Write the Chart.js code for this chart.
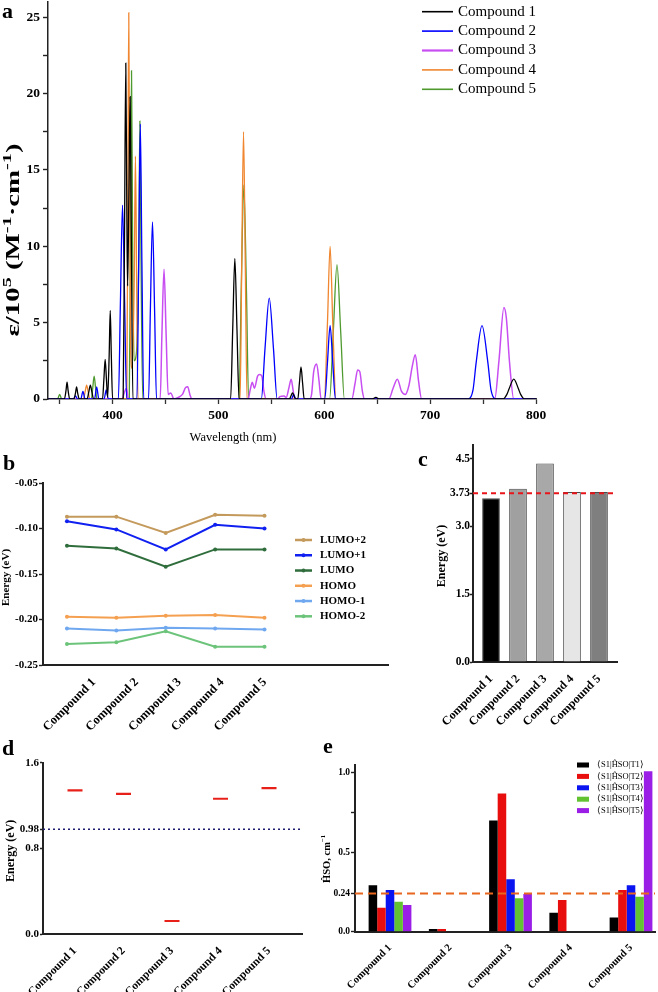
<!DOCTYPE html>
<html><head><meta charset="utf-8">
<script src="https://cdn.jsdelivr.net/npm/chart.js@4.4.1/dist/chart.umd.min.js"></script>
<style>
html,body{margin:0;padding:0;background:#fff;}
body{width:658px;height:992px;position:relative;overflow:hidden;}
.box{position:absolute;}
</style></head><body>
<div class="box" style="left:0;top:0;width:658px;height:452px"><canvas id="ca"></canvas></div>
<div class="box" style="left:0;top:452px;width:400px;height:290px"><canvas id="cb"></canvas></div>
<div class="box" style="left:400px;top:440px;width:258px;height:300px"><canvas id="cc"></canvas></div>
<div class="box" style="left:0;top:740px;width:318px;height:252px"><canvas id="cd"></canvas></div>
<div class="box" style="left:318px;top:740px;width:340px;height:252px"><canvas id="ce"></canvas></div>
<script>
// ================= DATA =================
// Panel a: absorption spectra (wavelength nm, epsilon / 1e5)
const A_NAMES = ['Compound 1','Compound 2','Compound 3','Compound 4','Compound 5'];
const c1WL  = [339,354.5,356,357,358,359.5,363.5,365,366,367,368.5,376,377.5,379,380.5,382,390.5,391.8,393,394.2,395.3,396.8,397.8,398.8,400,410,411.3,412.5,413.5,414.2,415.5,416.6,417.8,419.2,511.5,513.5,515.5,517.5,519.5,567,568.5,570,571.5,573,575,576.5,578,579.5,581,645,648.8,652,769,772.5,774.5,779,783.5,785.5,789,800];
const c1EPS = [0,0,0.55,1.1,0.55,0,0,0.4,0.8,0.4,0,0,0.45,0.9,0.45,0,0,1.3,2.6,1.3,0.1,2.9,5.8,2.9,0,0,11,22.0,12,7.4,14,19.8,10,0,0,4.6,9.2,4.6,0,0,0.2,0.4,0.2,0,0,1.05,2.1,1.05,0,0,0.1,0,0,0.3,0.65,1.3,0.65,0.3,0,0];
const c2WL  = [339,363,365,367,370,372,374,383,385,387,392,394,396,405.5,407.4,409.4,411.4,413.3,423,424.7,426.2,427.7,429.4,434,435.7,437.7,439.7,441.5,540.5,544,548,552,555.5,569,571,573,600.5,603,605.5,608,610.5,736,740.5,743.5,749,754.5,757.5,762,800];
const c2EPS = [0,0,0.2,0,0,0.5,0,0,0.8,0,0,0.6,0,0,6.3,12.7,6.3,0,0,9,18.0,9,0,0,5.8,11.6,5.8,0,0,3.3,6.6,3.3,0,0,0.3,0,0,2.4,4.8,2.4,0,0,0.6,2.4,4.8,2.4,0.6,0,0];
const c3WL  = [339,409,411,413,415,445,446.6,448.6,450.6,452.5,455,458,462,466,469,471,473,475,528,530,532,534,537,539,541,543,545,556,558,562,564,566.5,568.7,570.5,572,586,588,590,592.8,595,597,626,629,631.5,633.5,636,638,661,665,669,673,676.5,680,683,686,689,692,761,765,769.7,772,775,779,800];
const c3EPS = [0,0,0.4,0.7,0,0,4.2,8.5,4.2,0.3,0.4,0,0.1,0.3,0.75,0.8,0.3,0,0,0.6,1.1,0.7,1.5,1.6,1.5,0.5,0,0,0.15,0.2,0.1,0.7,1.3,0.6,0,0,0.3,1.8,2.3,1.2,0,0,1.0,1.9,1.8,0.5,0,0,0.7,1.3,0.5,0.3,0.9,2.1,2.9,1.2,0,0,2.5,6.0,5.3,2.4,0,0];
const c4WL  = [339,372.5,374,375.5,377,378.5,413.4,414.4,415.3,416.2,417.2,418.5,420.5,421.6,422.7,424,520.5,522,523.7,525.4,527,600,603,605.5,608,611,800];
const c4EPS = [0,0,0.45,0.9,0.45,0,0,12.6,25.3,12.6,3,2,8,15.9,8,0,0,8.7,17.5,8.7,0,0,5,10.0,5,0,0];
const c5WL  = [339,348,350,352,380,381.3,382.6,383.9,385.2,415.8,416.9,417.9,418.9,420.3,422.5,424.7,425.8,426.9,428.5,519.5,521.5,524,526.5,528.5,605,608.5,612,615.5,619,800];
const c5EPS = [0,0,0.3,0,0,0.75,1.5,0.75,0,0,10.7,21.5,10.7,2.5,3,9,18.2,9,0,0,7,14.0,7,0,0,4.4,8.8,4.4,0,0];
const A_XTICKS = [350,400,450,500,550,600,650,700,750,800];
const A_YTICKS = [0,2.5,5,7.5,10,12.5,15,17.5,20,22.5,25];

// Panel b: orbital energies (eV)
const CATEGORIES = ['Compound 1','Compound 2','Compound 3','Compound 4','Compound 5'];
const ORBITALS = ['LUMO+2','LUMO+1','LUMO','HOMO','HOMO-1','HOMO-2'];
const lumoP2 = [-0.087,-0.087,-0.105,-0.085,-0.086];
const lumoP1 = [-0.092,-0.101,-0.123,-0.096,-0.100];
const lumo   = [-0.119,-0.122,-0.142,-0.123,-0.123];
const homo   = [-0.197,-0.198,-0.196,-0.195,-0.198];
const homoM1 = [-0.210,-0.212,-0.209,-0.210,-0.211];
const homoM2 = [-0.227,-0.225,-0.213,-0.230,-0.230];
const B_YTICKS = [-0.25,-0.20,-0.15,-0.10,-0.05];

// Panel c: energy gap (eV)
const gapEnergy = [3.62,3.83,4.39,3.76,3.76];
const C_REF = 3.73;
const C_YTICKS = [0,1.5,3.0,3.73,4.5];

// Panel d: ΔE (eV)
const deltaE = [1.342,1.31,0.124,1.264,1.363];
const D_REF = 0.98;
const D_YTICKS = [0,0.8,0.98,1.6];

// Panel e: SOC matrix elements (cm-1)
const SOC_NAMES = ['⟨S1|ĤSO|T1⟩','⟨S1|ĤSO|T2⟩','⟨S1|ĤSO|T3⟩','⟨S1|ĤSO|T4⟩','⟨S1|ĤSO|T5⟩'];
const socT1 = [0.292,0.017,0.70,0.12,0.09];
const socT2 = [0.151,0.017,0.87,0.20,0.262];
const socT3 = [0.262,0,0.331,0,0.292];
const socT4 = [0.189,0,0.21,0,0.22];
const socT5 = [0.168,0,0.237,0,1.01];
const E_REF = 0.24;
const E_YTICKS = [0,0.24,0.5,0.75,1.0];

// ================= STYLE / HELPERS =================
const FF = "'Liberation Serif','Times New Roman',serif";
Chart.defaults.font.family = FF;
Chart.defaults.color = '#000';

function zp(s){ s.paddingTop=0; s.paddingBottom=0; s.paddingLeft=0; s.paddingRight=0; }
function fixW(w){ return s=>{ s.width=w; zp(s); }; }
function fixH(h){ return s=>{ s.height=h; zp(s); }; }
function setTicks(arr){ return s=>{ s.ticks = arr.map(v=>({value:v})); }; }

function yAxis(o){
  return {type:'linear', min:o.min, max:o.max, afterBuildTicks:setTicks(o.ticks),
    ticks:{callback:o.fmt, font:{size:o.size, weight:'bold'}, padding:o.pad, autoSkip:false, color:'#000'},
    grid:{drawOnChartArea:false, drawTicks:true, tickLength:o.tl, tickColor:'#222', tickWidth:1.4},
    border:{display:true, color:'#222', width:o.bw||1.8},
    afterFit:fixW(o.width)};
}
function catAxis(o){
  return {type:'linear', min:o.min, max:o.max, offset:false, afterBuildTicks:setTicks([1,2,3,4,5]),
    ticks:{callback:v=>CATEGORIES[v-1], font:{size:o.size, weight:'bold'}, minRotation:45, maxRotation:45, autoSkip:false, padding:o.pad, color:'#000'},
    grid:{display:false, offset:false}, border:{display:o.border!==false, color:'#222', width:o.bw||1.8},
    afterFit:fixH(o.height), weight:o.weight||0};
}
function txt(ctx, t, x, y, font, rot, align){
  ctx.save(); ctx.translate(x,y); ctx.rotate(rot||0);
  ctx.font=font; ctx.fillStyle='#000'; ctx.textAlign=align||'center'; ctx.textBaseline='middle';
  ctx.fillText(t,0,0); ctx.restore();
}
// rich text centred at (x,y); optional target length stretches along the text direction
function rich(ctx, segs, x, y, size, rot, bold, supRatio, target){
  const sr = supRatio||0.62;
  ctx.save(); ctx.translate(x,y); ctx.rotate(rot||0); ctx.fillStyle='#000'; ctx.textBaseline='alphabetic';
  const f = sup => (bold?'bold ':'') + (sup?size*sr:size) + 'px ' + FF;
  let tot=0; segs.forEach(s=>{ ctx.font=f(s.sup); tot+=ctx.measureText(s.t).width; });
  if (target) { ctx.scale(target/tot, 1); }
  let cx=-tot/2;
  segs.forEach(s=>{ ctx.font=f(s.sup); ctx.fillText(s.t, cx, size*0.35 - (s.sup?size*0.4:0)); cx+=ctx.measureText(s.t).width; });
  ctx.restore();
}
function hRef(chart, val, color, dash, w){
  const {ctx, chartArea:{left,right}} = chart; const y = chart.scales.y.getPixelForValue(val);
  ctx.save(); ctx.strokeStyle=color; ctx.setLineDash(dash); ctx.lineWidth=w;
  ctx.beginPath(); ctx.moveTo(left,y); ctx.lineTo(right,y); ctx.stroke(); ctx.restore();
}
const common = {responsive:true, maintainAspectRatio:false, animation:false, events:[],
  plugins:{legend:{display:false}, tooltip:{enabled:false}}};
const toXY = (xs,ys)=>xs.map((x,i)=>({x, y:ys[i]}));

// ================= PANEL A =================
const A_COLORS = ['#000000','#0000ff','#c84ef2','#f0862f','#4f9a2e'];
const A_WIDTH = [1.3,1.3,1.5,1.3,1.3];
const aWL = [c1WL,c2WL,c3WL,c4WL,c5WL], aEPS = [c1EPS,c2EPS,c3EPS,c4EPS,c5EPS];
new Chart('ca', {type:'line',
  data:{datasets:A_NAMES.map((n,i)=>({label:n, data:toXY(aWL[i],aEPS[i]), borderColor:A_COLORS[i], borderWidth:A_WIDTH[i],
    pointRadius:0, cubicInterpolationMode:'monotone', fill:false}))},
  options:{...common, layout:{padding:{left:0,right:122,top:2,bottom:0}},
    scales:{
      x:{type:'linear', min:339, max:800, afterBuildTicks:setTicks(A_XTICKS),
        ticks:{callback:v=>v%100===0?String(v):'', font:{size:13.5,weight:'bold'}, maxRotation:0, autoSkip:false, padding:3},
        grid:{drawOnChartArea:false, drawTicks:true, tickLength:5, tickColor:'#333', tickWidth:1.3},
        border:{display:true,color:'#333',width:1.5}, afterFit:fixH(53)},
      y:yAxis({min:0,max:26,ticks:A_YTICKS,fmt:v=>v%5===0?String(v):'',size:13.5,pad:3,tl:5,width:48,bw:1.5})
    }},
  plugins:[{id:'decoA', afterDraw(chart){
    const ctx=chart.ctx;
    txt(ctx,'a',2,12,'bold 22px '+FF,0,'left');
    rich(ctx,[{t:'ε/10'},{t:'5',sup:true},{t:' (M'},{t:'-1',sup:true},{t:'·cm'},{t:'-1',sup:true},{t:')'}],12,240,19,-Math.PI/2,true,0.7,193);
    txt(ctx,'Wavelength (nm)',233,438,'12.5px '+FF);
    chart.data.datasets.forEach((ds,i)=>{
      const y=11.7+i*19.4;
      ctx.save(); ctx.strokeStyle=ds.borderColor; ctx.lineWidth=i===2?2.2:1.6;
      ctx.beginPath(); ctx.moveTo(422,y); ctx.lineTo(453,y); ctx.stroke(); ctx.restore();
      txt(ctx, ds.label, 458, y, '15px '+FF, 0, 'left');
    });
  }}]
});

// ================= PANEL B =================
const B_COLORS = ['#c49a5c','#1020f0','#2f6e3c','#f5a050','#70a8f0','#6cc47a'];
const bVals = [lumoP2,lumoP1,lumo,homo,homoM1,homoM2];
new Chart('cb', {type:'line',
  data:{datasets:ORBITALS.map((n,i)=>({label:n, data:bVals[i].map((v,j)=>({x:j+1,y:v})), borderColor:B_COLORS[i], backgroundColor:B_COLORS[i],
    borderWidth:2, pointRadius:2, pointBorderWidth:0, xAxisID:'x', yAxisID:'y'}))},
  options:{...common, layout:{padding:{left:0,right:12,top:31,bottom:0}},
    scales:{
      x:{type:'linear', min:0.515, max:7.5, ticks:{display:false}, grid:{display:false}, border:{display:true,color:'#222',width:2}, afterFit:fixH(0), weight:0},
      xl:catAxis({min:-0.193,max:7.877,size:12.5,pad:2,height:77,border:false,weight:1}),
      y:yAxis({min:-0.25,max:-0.05,ticks:B_YTICKS,fmt:v=>v.toFixed(2),size:11,pad:1,tl:4,width:43,bw:2})
    }},
  plugins:[{id:'decoB', afterDraw(chart){
    const ctx=chart.ctx;
    txt(ctx,'b',3,12,'bold 22px '+FF,0,'left');
    txt(ctx,'Energy (eV)',6.5,125.5,'bold 11px '+FF,-Math.PI/2);
    chart.data.datasets.forEach((ds,i)=>{
      const y=88+i*15.26;
      ctx.save(); ctx.strokeStyle=ds.borderColor; ctx.fillStyle=ds.borderColor; ctx.lineWidth=2.5;
      ctx.beginPath(); ctx.moveTo(295,y); ctx.lineTo(312,y); ctx.stroke();
      ctx.beginPath(); ctx.arc(303.5,y,2,0,Math.PI*2); ctx.fill(); ctx.restore();
      txt(ctx, ds.label, 320, y, 'bold 11px '+FF, 0, 'left');
    });
  }}]
});

// ================= PANEL C =================
const C_COLORS = ['#000000','#a0a0a0','#a8a8a8','#e6e6e6','#7f7f7f'];
new Chart('cc', {type:'bar',
  data:{datasets:[{data:gapEnergy.map((v,i)=>({x:i+1,y:v})), backgroundColor:C_COLORS, borderColor:'#4a4a4a', borderWidth:1,
    barPercentage:1, categoryPercentage:0.655}]},
  options:{...common, layout:{padding:{left:0,right:41,top:5,bottom:0}},
    scales:{
      x:catAxis({min:0.3333,max:5.6667,size:12,pad:2,height:78,bw:2}),
      y:yAxis({min:0,max:4.8,ticks:C_YTICKS,fmt:v=>v===3.73?'3.73':v.toFixed(1),size:11.5,pad:0,tl:3,width:73,bw:2})
    }},
  plugins:[{id:'decoC', afterDatasetsDraw(chart){ hRef(chart,C_REF,'#e8141a',[5,4],2); },
    afterDraw(chart){ const ctx=chart.ctx;
      txt(ctx,'c',18,20,'bold 22px '+FF,0,'left');
      txt(ctx,'Energy (eV)',41.7,116,'bold 12px '+FF,-Math.PI/2);
    }}]
});

// ================= PANEL D =================
new Chart('cd', {type:'scatter',
  data:{datasets:[{data:deltaE.map((v,i)=>({x:i+1,y:v})), pointStyle:'line', pointRadius:7.5, pointBorderWidth:2.2,
    borderColor:'#e8201a', backgroundColor:'#e8201a', showLine:false}]},
  options:{...common, layout:{padding:{left:0,right:16,top:22.7,bottom:0}},
    scales:{
      x:catAxis({min:0.34,max:5.68,size:11.5,pad:2,height:57.7,bw:2}),
      y:yAxis({min:0,max:1.6,ticks:D_YTICKS,fmt:v=>v===0.98?'0.98':v.toFixed(1),size:11,pad:1,tl:3,width:43,bw:2})
    }},
  plugins:[{id:'decoD', beforeDatasetsDraw(chart){ hRef(chart,D_REF,'#1a1a6e',[2,3],1.5); },
    afterDraw(chart){ const ctx=chart.ctx;
      txt(ctx,'d',2,9,'bold 22px '+FF,0,'left');
      txt(ctx,'Energy (eV)',11,110.8,'bold 12px '+FF,-Math.PI/2);
    }}]
});

// ================= PANEL E =================
const E_COLORS = ['#000000','#e80e0e','#0a14f0','#62c232','#9b1ee6'];
const eVals = [socT1,socT2,socT3,socT4,socT5];
new Chart('ce', {type:'bar',
  data:{datasets:SOC_NAMES.map((n,i)=>({label:n, data:eVals[i].map((v,j)=>({x:j+1,y:v})), backgroundColor:E_COLORS[i], borderWidth:0,
    barPercentage:1, categoryPercentage:0.71}))},
  options:{...common, layout:{padding:{left:0,right:3,top:25,bottom:0}},
    scales:{
      x:catAxis({min:0.419,max:5.398,size:10.5,pad:2,height:60.3,bw:2}),
      y:yAxis({min:0,max:1.05,ticks:E_YTICKS,fmt:v=>v===0.75?'':(v===0.24?'0.24':v.toFixed(1)),size:9.5,pad:1,tl:4,width:37,bw:2})
    }},
  plugins:[{id:'decoE', afterDatasetsDraw(chart){ hRef(chart,E_REF,'#e8661e',[8,5],2); },
    afterDraw(chart){ const ctx=chart.ctx;
      txt(ctx,'e',5,7,'bold 22px '+FF,0,'left');
      rich(ctx,[{t:'ĤSO, cm'},{t:'−1',sup:true}],8,119,10.5,-Math.PI/2,true);
      chart.data.datasets.forEach((ds,i)=>{
        const y=25+i*11.4;
        ctx.save(); ctx.fillStyle=ds.backgroundColor; ctx.fillRect(259,y-2.5,12,5); ctx.restore();
        txt(ctx, ds.label, 279, y, '8.5px '+FF, 0, 'left');
      });
    }}]
});
</script>
</body></html>
